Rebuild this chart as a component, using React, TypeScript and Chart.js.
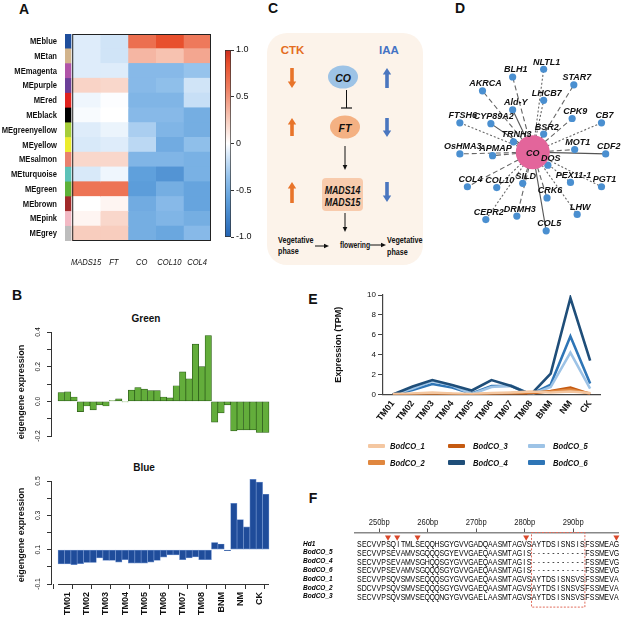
import React, { useEffect, useRef } from 'react';
import { Chart, registerables } from 'chart.js';

Chart.register(...registerables);

const SANS = "'Liberation Sans', Arial, Helvetica, sans-serif";
const SQ = 0.8; // horizontal squeeze for condensed-looking labels
Chart.defaults.font.family = SANS;

// ---------------- A: module–trait heatmap ----------------
const hmRows = ['MEblue', 'MEtan', 'MEmagenta', 'MEpurple', 'MEred', 'MEblack', 'MEgreenyellow', 'MEyellow', 'MEsalmon', 'MEturquoise', 'MEgreen', 'MEbrown', 'MEpink', 'MEgrey'];
const hmStripColors = ['#1f4e9c', '#d2b48c', '#b054a8', '#6b3f98', '#e0231f', '#000000', '#a6cd3a', '#ecec2e', '#e8806e', '#5cc2b8', '#5eb238', '#a12a2a', '#f2b9c4', '#bdbdbd'];
const hmCols = ['MADS15', 'FT', 'CO', 'COL10', 'COL4'];
const hmMADS15 = [-0.1, -0.1, -0.1, 0.22, -0.05, -0.02, -0.1, -0.12, 0.2, -0.12, 0.65, 0, 0.05, 0.25];
const hmFT = [-0.15, -0.15, -0.1, 0.2, -0.01, 0, -0.06, -0.1, 0.2, -0.05, 0.65, 0.05, 0.2, 0.25];
const hmCO = [0.68, 0.35, -0.42, -0.42, -0.45, -0.42, -0.28, -0.22, -0.45, -0.6, -0.62, -0.52, -0.5, -0.5];
const hmCOL10 = [0.85, 0.3, -0.42, -0.38, -0.45, -0.42, -0.45, -0.52, -0.45, -0.68, -0.5, -0.42, -0.45, -0.55];
const hmCOL4 = [0.62, 0.42, -0.35, -0.15, -0.18, -0.5, -0.5, -0.38, -0.48, -0.48, -0.57, -0.57, -0.5, -0.42];
const cbTicks = [-1, -0.5, 0, 0.5, 1];

const heatStops: [number, number[]][] = [
  [-1, [35, 100, 180]], [-0.6, [95, 160, 220]], [-0.35, [150, 195, 236]], [-0.1, [222, 236, 250]],
  [0, [255, 255, 255]], [0.25, [248, 205, 190]], [0.6, [238, 125, 95]], [0.85, [232, 80, 45]], [1, [205, 45, 30]],
];
function heatColor(v: number) {
  for (let i = 0; i < heatStops.length - 1; i++) {
    const [a, ca] = heatStops[i];
    const [b, cb] = heatStops[i + 1];
    if (v <= b || i === heatStops.length - 2) {
      const t = Math.max(0, Math.min(1, (v - a) / (b - a)));
      const c = ca.map((x, k) => Math.round(x + (cb[k] - x) * t));
      return `rgb(${c[0]},${c[1]},${c[2]})`;
    }
  }
  return '#fff';
}

// ---------------- B: eigengene bars ----------------
const bGroups = ['TM01', 'TM02', 'TM03', 'TM04', 'TM05', 'TM06', 'TM07', 'TM08', 'BNM', 'NM', 'CK'];
const greenME = [0.051, 0.055, 0.025, -0.059, -0.027, -0.049, -0.02, -0.027, 0.004, 0.014, -0.004, 0.065, 0.08, 0.07, 0.062, 0.062, 0.025, 0.02, 0.09, 0.17, 0.13, 0.33, 0.2, 0.38, -0.12, -0.067, -0.02, -0.17, -0.165, -0.165, -0.165, -0.18, -0.18];
const blueME = [0.017, 0.017, 0.013, 0.019, 0.025, 0.025, 0.052, 0.037, 0.037, 0.027, 0.042, 0.021, 0.021, 0.021, 0.027, 0.038, 0.056, 0.069, 0.069, 0.042, 0.052, 0.058, 0.042, 0.042, 0.142, 0.133, 0.094, 0.37, 0.275, 0.233, 0.51, 0.494, 0.423];
const greenYTicks = [-0.2, -0.1, 0, 0.1, 0.2, 0.3, 0.4];
const greenYLabels = [-0.2, 0, 0.2, 0.4];
const blueYTicks = [-0.1, 0, 0.1, 0.2, 0.3, 0.4, 0.5];
const blueYLabels = [-0.1, 0.1, 0.3, 0.5];

// ---------------- E: BodCO expression ----------------
const eCats = ['TM01', 'TM02', 'TM03', 'TM04', 'TM05', 'TM06', 'TM07', 'TM08', 'BNM', 'NM', 'CK'];
const bodCO1 = [0.05, 0.1, 0.2, 0.1, 0.05, 0.15, 0.2, 0.3, 0.2, 0.3, 0.15];
const bodCO2 = [0, 0.05, 0.1, 0.05, 0, 0.1, 0.15, 0.2, 0.3, 0.5, 0.1];
const bodCO3 = [0, 0, 0.02, 0, 0, 0.02, 0.05, 0.1, 0.35, 0.7, 0.05];
const bodCO4 = [0, 0.8, 1.45, 0.95, 0.4, 1.45, 0.85, 0, 2.1, 9.7, 3.4];
const bodCO5 = [0, 0.6, 1.35, 0.9, 0.05, 0.75, 0.9, 0, 0.75, 4.2, 0.6];
const bodCO6 = [0, 0.45, 1.05, 0.7, 0.1, 0.85, 0.85, 0, 1.0, 5.85, 1.1];
const eNames = ['BodCO_1', 'BodCO_2', 'BodCO_3', 'BodCO_4', 'BodCO_5', 'BodCO_6'];
const eColors = ['#f4c7a1', '#e0873f', '#c55a11', '#1f4e79', '#9dc3e6', '#2e75b6'];

// ---------------- F: alignment ----------------
const fNames = ['Hd1', 'BodCO_5', 'BodCO_4', 'BodCO_6', 'BodCO_1', 'BodCO_2', 'BodCO_3'];
const fSeqs = [
  'SECVVPSQITMLSEQQHSGYGVVGADQAASMTAGVSAYTDSISNSISFSSMEAG',
  'SECVVPSEVAMVSGQQQSGYEVVGAEQAASMTAGIS-----------FSSMEVG',
  'SECVVPSEVAMVSGHQQSGYGVVGAEQAASMTAGIS-----------FSSMEVG',
  'SECVVPSEVAMVSGQQQSGYGVVGAEQAASMTAGIS-----------FSSMEVG',
  'SECVVPSQVSMVSEQQQSGYGVVGAEQAASMTAGVSAYTDSISNSVSFSSMEVA',
  'SDCVVPSQVSMVSEQQQSGYGVVGAEQAASMTAGVSAYTDSISNSVSFSSMEVA',
  'SECVVPSQVSMVSEQQQNGYGVVGAELAASMTAGVSAYTDSISNSVSFSSMEVA',
];
const fFirstBp = 245.9;
const fRulerTicks = [250, 260, 270, 280, 290];
const fMarks = [251.8, 253.7, 257.9, 280.3, 298.9];
const fBox = [281.4, 292.4];

// ---------------- D: co-expression network ----------------
const dNodes = ['NLTL1', 'BLH1', 'STAR7', 'AKRCA', 'LHCB7', 'Ald-Y', 'FTSH6', 'CYP89A2', 'CPK9', 'CB7', 'BSR2', 'TRNH3', 'OsHMA3', 'APMAP', 'MOT1', 'CDF2', 'DOS', 'PEX11-1', 'PGT1', 'COL4', 'COL10', 'SILD', 'CRK6', 'CEPR2', 'DRMH3', 'LHW', 'COL5'];
const dX = [13, -24, 49, -60, 13, -24, -87, -50, 47, 82, 13, -23, -87, -48, 50, 87, 18, 45, 82, -78, -43, -12, 17, -56, -19, 53, 16];
const dY = [-96, -87, -78, -71, -60, -49, -34, -33, -39, -34, -21, -12, 2, 4, -3, 2, 15, 35, 40, 40, 41, 36, 53, 78, 74, 72, 91];
const dEdge = ['o', 'd', 'd', 'd', 'o', 's', 'o', 's', 'd', 'o', 's', 's', 'd', 'd', 'd', 's', 's', 'o', 'o', 'd', 'o', 'd', 'd', 'o', 'd', 'o', 's'];

const noUi = { legend: { display: false }, tooltip: { enabled: false } };

function squeezed(ctx: any, text: string, x: number, y: number, sx = SQ) {
  ctx.save();
  ctx.translate(x, y);
  ctx.scale(sx, 1);
  ctx.fillText(text, 0, 0);
  ctx.restore();
}

function heatmapConfig(): any {
  const colVals = [hmMADS15, hmFT, hmCO, hmCOL10, hmCOL4];
  const common = { borderWidth: 0, inflateAmount: 0.5, grouped: false, barPercentage: 1, categoryPercentage: 1 };
  const cells = colVals.map((vals, c) => ({ ...common, data: hmRows.map(() => [c, c + 1]), backgroundColor: vals.map(heatColor) }));
  const strip = { ...common, inflateAmount: 0.3, data: hmRows.map(() => [-0.26, -0.04]), backgroundColor: hmStripColors };
  return {
    type: 'bar',
    data: { labels: hmRows, datasets: [...cells, strip] },
    options: {
      indexAxis: 'y', animation: false, responsive: false,
      layout: { padding: { top: 9, right: 9, left: 0, bottom: 0 } },
      plugins: noUi,
      scales: {
        y: {
          type: 'category', grid: { display: false, drawTicks: false }, border: { display: false },
          ticks: { display: false },
          afterFit: (s: any) => { s.width = 65; },
        },
        x: {
          type: 'linear', min: -0.26, max: 5, grid: { display: false, drawTicks: false }, border: { display: false },
          ticks: { display: false },
          afterFit: (s: any) => { s.height = 34; },
        },
      },
    },
    plugins: [{
      id: 'hmDecor',
      afterDatasetsDraw(chart: any) {
        const { ctx, chartArea } = chart;
        const xs = chart.scales.x;
        const ys = chart.scales.y;
        const x0 = xs.getPixelForValue(0);
        const x1 = xs.getPixelForValue(5);
        ctx.save();
        ctx.strokeStyle = '#222';
        ctx.lineWidth = 1;
        ctx.strokeRect(x0 + 0.5, chartArea.top + 0.5, x1 - x0 - 1, chartArea.bottom - chartArea.top - 1);
        ctx.fillStyle = '#111';
        ctx.textBaseline = 'middle';
        ctx.textAlign = 'right';
        ctx.font = `bold 9.5px ${SANS}`;
        hmRows.forEach((r, i) => squeezed(ctx, r, chartArea.left - 8, ys.getPixelForValue(i)));
        ctx.textAlign = 'center';
        ctx.font = `italic 9.5px ${SANS}`;
        hmCols.forEach((c, i) => squeezed(ctx, c, xs.getPixelForValue(i + 0.5), chartArea.bottom + 21));
        ctx.restore();
      },
    }],
  };
}

function colorbarConfig(): any {
  return {
    type: 'bar',
    data: {
      labels: [''],
      datasets: [{
        data: [[-1, 1]],
        backgroundColor: (c: any) => {
          const a = c.chart.chartArea;
          if (!a) return '#fff';
          const g = c.chart.ctx.createLinearGradient(0, a.bottom, 0, a.top);
          heatStops.forEach(([v, rgb]) => g.addColorStop((v + 1) / 2, `rgb(${rgb[0]},${rgb[1]},${rgb[2]})`));
          return g;
        },
        borderColor: '#333', borderWidth: 1, borderSkipped: false, barPercentage: 1, categoryPercentage: 1,
      }],
    },
    options: {
      animation: false, responsive: false,
      layout: { padding: { left: 10, top: 10, bottom: 13, right: 0 } },
      plugins: noUi,
      scales: {
        x: { display: false },
        y: {
          position: 'right', min: -1, max: 1,
          afterBuildTicks: (s: any) => { s.ticks = cbTicks.map((v) => ({ value: v })); },
          grid: { drawOnChartArea: false, tickLength: 3, color: '#333' }, border: { display: false },
          ticks: { padding: 2, color: '#111', font: { family: SANS, size: 9 } },
          afterFit: (s: any) => { s.width = 34; },
        },
      },
    },
  };
}

function rAxisPlugin(labels: number[], titleY: number) {
  return {
    id: 'rAxis',
    afterDraw(chart: any) {
      const { ctx } = chart;
      const ys = chart.scales.y;
      ctx.save();
      ctx.fillStyle = '#111';
      ctx.textAlign = 'center';
      ctx.textBaseline = 'middle';
      ctx.font = `8px ${SANS}`;
      labels.forEach((v) => {
        ctx.save();
        ctx.translate(38, ys.getPixelForValue(v));
        ctx.rotate(-Math.PI / 2);
        ctx.scale(0.85, 1);
        ctx.fillText(v.toFixed(1), 0, 0);
        ctx.restore();
      });
      ctx.font = `bold 9px ${SANS}`;
      ctx.translate(22, titleY);
      ctx.rotate(-Math.PI / 2);
      ctx.fillText('eigengene expression', 0, 0);
      ctx.restore();
    },
  };
}

function eigenConfig(values: number[], color: string, border: string, yTicks: number[], yLabels: number[], min: number, max: number, base: number, showX: boolean, pad: any, xHeight: number, titleY: number): any {
  const x: any = showX ? {
    type: 'linear', min: -1.1, max: 33, offset: false,
    afterBuildTicks: (s: any) => {
      const t: number[] = [];
      for (let g = 0; g <= bGroups.length; g++) t.push(g * 3);
      for (let g = 0; g < bGroups.length; g++) t.push(g * 3 + 1.5);
      t.sort((a, b) => a - b);
      s.ticks = t.map((v) => ({ value: v }));
    },
    grid: { drawOnChartArea: false, tickLength: 5, tickColor: (c: any) => (c.tick && c.tick.value % 3 === 0 ? '#333' : 'rgba(0,0,0,0)') },
    border: { display: false },
    ticks: {
      autoSkip: false, minRotation: 90, maxRotation: 90, padding: 3, color: '#111',
      font: { family: SANS, size: 9, weight: 'bold' },
      callback: (v: number) => { const k = (v - 1.5) / 3; return Number.isInteger(k) ? bGroups[k] : ''; },
    },
    afterFit: (s: any) => { s.height = xHeight; },
  } : { type: 'linear', min: -1.1, max: 33, offset: false, display: false };
  const plugins: any[] = [rAxisPlugin(yLabels, titleY)];
  if (showX) {
    plugins.push({
      id: 'rXLine',
      afterDraw(chart: any) {
        const { ctx, chartArea } = chart;
        const xs = chart.scales.x;
        ctx.save();
        ctx.strokeStyle = '#333';
        ctx.lineWidth = 1;
        ctx.beginPath();
        ctx.moveTo(xs.getPixelForValue(0), chartArea.bottom + 0.5);
        ctx.lineTo(xs.getPixelForValue(33), chartArea.bottom + 0.5);
        ctx.stroke();
        ctx.restore();
      },
    });
  }
  return {
    type: 'bar',
    data: {
      datasets: [{
        data: values.map((v, i) => ({ x: i + 0.5, y: v })), base,
        backgroundColor: color, borderColor: border, borderWidth: 0.7, borderSkipped: false,
        barPercentage: 1, categoryPercentage: 1, clip: 4,
      }],
    },
    options: {
      animation: false, responsive: false,
      layout: { padding: pad },
      plugins: noUi,
      scales: {
        x,
        y: {
          min, max,
          afterBuildTicks: (s: any) => { s.ticks = yTicks.map((v) => ({ value: v })); },
          ticks: { display: false },
          grid: { drawOnChartArea: false, tickLength: 4, color: '#333' },
          border: { color: '#333' },
          afterFit: (s: any) => { s.width = 51; },
        },
      },
    },
    plugins,
  };
}

function lineConfig(): any {
  const series = [bodCO1, bodCO2, bodCO3, bodCO4, bodCO5, bodCO6];
  return {
    type: 'line',
    data: {
      labels: eCats,
      datasets: series.map((d, i) => ({ label: eNames[i], data: d, borderColor: eColors[i], backgroundColor: eColors[i], borderWidth: 2.6, pointRadius: 0, tension: 0 })),
    },
    options: {
      animation: false, responsive: false,
      layout: { padding: { top: 10, right: 35, left: 0, bottom: 0 } },
      plugins: noUi,
      scales: {
        x: {
          offset: true, grid: { display: false, drawTicks: false }, border: { color: '#444', width: 1.2 },
          ticks: { minRotation: 52, maxRotation: 52, autoSkip: false, padding: 4, color: '#111', font: { family: SANS, size: 9, weight: 'bold' } },
          afterFit: (s: any) => { s.height = 50.5; },
        },
        y: {
          min: 0, max: 10,
          ticks: { stepSize: 2, padding: 2, color: '#111', font: { family: SANS, size: 8 } },
          grid: { drawOnChartArea: false, tickLength: 5, color: '#444' },
          border: { color: '#444', width: 1.2 },
          title: { display: true, text: 'Expression (TPM)', color: '#111', font: { family: SANS, size: 9, weight: 'bold' }, padding: { top: 33, bottom: 0 } },
          afterFit: (s: any) => { s.width = 83; },
        },
      },
    },
  };
}

function alignConfig(): any {
  return {
    type: 'scatter',
    data: {
      datasets: [{
        data: fMarks.map((x) => ({ x, y: -0.75 })),
        pointStyle: 'triangle', pointRotation: 180, pointRadius: 3.5,
        pointBackgroundColor: '#d9482b', pointBorderWidth: 0, clip: false,
      }],
    },
    options: {
      animation: false, responsive: false,
      layout: { padding: { left: 65, right: 17, top: 0, bottom: 9 } },
      plugins: noUi,
      scales: {
        x: {
          type: 'linear', position: 'top', min: 245, max: 299.23,
          afterBuildTicks: (s: any) => { s.ticks = fRulerTicks.map((v) => ({ value: v })); },
          ticks: { display: false },
          grid: { drawOnChartArea: false, tickLength: 4, color: '#555' },
          border: { color: '#888', width: 1.5 },
          afterFit: (s: any) => { s.height = 27.5; },
        },
        y: { type: 'linear', display: false, reverse: true, min: -1.3, max: 7.53 },
      },
    },
    plugins: [{
      id: 'alignment',
      afterDatasetsDraw(chart: any) {
        const { ctx, chartArea } = chart;
        const xs = chart.scales.x;
        const ys = chart.scales.y;
        ctx.save();
        const bx0 = xs.getPixelForValue(fBox[0]);
        const bx1 = xs.getPixelForValue(fBox[1]);
        const by1 = ys.getPixelForValue(7.2);
        ctx.strokeStyle = '#e06a5a';
        ctx.lineWidth = 1;
        ctx.setLineDash([2, 1.5]);
        ctx.strokeRect(bx0, chartArea.top, bx1 - bx0, by1 - chartArea.top);
        ctx.setLineDash([]);
        ctx.textAlign = 'center';
        ctx.textBaseline = 'middle';
        ctx.fillStyle = '#222';
        ctx.font = `9.5px ${SANS}`;
        fRulerTicks.forEach((v) => squeezed(ctx, `${v}bp`, xs.getPixelForValue(v), chartArea.top - 10, 0.8));
        ctx.fillStyle = '#000';
        ctx.font = `9.2px ${SANS}`;
        fSeqs.forEach((seq, r) => {
          const py = ys.getPixelForValue(r) + 0.5;
          for (let i = 0; i < seq.length; i++) squeezed(ctx, seq[i], xs.getPixelForValue(fFirstBp + i), py, 0.76);
        });
        ctx.textAlign = 'left';
        ctx.font = `italic bold 6.5px ${SANS}`;
        fNames.forEach((n, r) => ctx.fillText(n, chartArea.left - 52, ys.getPixelForValue(r)));
        ctx.restore();
      },
    }],
  };
}

function networkConfig(): any {
  const dash = (k: string) => (k === 'd' ? [5, 3] : k === 'o' ? [2, 2] : []);
  const edges = dNodes.map((_, i) => ({
    data: [{ x: 0, y: 0 }, { x: dX[i], y: dY[i] }], showLine: true, order: 3,
    borderColor: dEdge[i] === 's' ? '#555' : '#666', borderWidth: 1.1, borderDash: dash(dEdge[i]), pointRadius: 0,
  }));
  return {
    type: 'scatter',
    data: {
      datasets: [
        ...edges,
        { data: dX.map((x, i) => ({ x, y: dY[i] })), order: 2, pointRadius: 3.6, pointBackgroundColor: '#4a8fd0', pointBorderWidth: 0 },
        { data: [{ x: 0, y: 0 }], order: 1, pointRadius: 17, pointBackgroundColor: '#e3659b', pointBorderWidth: 0 },
      ],
    },
    options: {
      animation: false, responsive: false,
      layout: { padding: 0 },
      plugins: noUi,
      scales: {
        x: { type: 'linear', display: false, min: -108.3, max: 101.7 },
        y: { type: 'linear', display: false, reverse: true, min: -133.3, max: 116.7 },
      },
    },
    plugins: [{
      id: 'netLabels',
      afterDatasetsDraw(chart: any) {
        const { ctx } = chart;
        const xs = chart.scales.x;
        const ys = chart.scales.y;
        ctx.save();
        ctx.fillStyle = '#111';
        ctx.textAlign = 'center';
        ctx.textBaseline = 'middle';
        ctx.font = `italic bold 9px ${SANS}`;
        dNodes.forEach((n, i) => ctx.fillText(n, xs.getPixelForValue(dX[i]) + 3, ys.getPixelForValue(dY[i]) - 7));
        ctx.fillText('CO', xs.getPixelForValue(0), ys.getPixelForValue(0) + 1);
        ctx.restore();
      },
    }],
  };
}

type Box = { left: number; top: number; width: number; height: number };

function ChartCanvas({ box, make }: { box: Box; make: () => any }) {
  const ref = useRef<HTMLCanvasElement | null>(null);
  useEffect(() => {
    if (!ref.current) return;
    const chart = new Chart(ref.current, make());
    return () => chart.destroy();
  }, []);
  return (
    <canvas
      ref={ref}
      width={box.width}
      height={box.height}
      style={{ position: 'absolute', left: box.left, top: box.top, width: box.width, height: box.height }}
    />
  );
}

function BlockArrow({ x, y1, y2, color }: { x: number; y1: number; y2: number; color: string }) {
  const dir = y2 < y1 ? -1 : 1;
  const hl = 6.5, hw = 4.2, sw = 1.8;
  const yb = y2 - dir * hl;
  const pts = `${x - sw},${y1} ${x - sw},${yb} ${x - hw},${yb} ${x},${y2} ${x + hw},${yb} ${x + sw},${yb} ${x + sw},${y1}`;
  return <polygon points={pts} fill={color} />;
}

function VArrow({ x, y1, y2 }: { x: number; y1: number; y2: number }) {
  return (
    <g>
      <line x1={x} y1={y1} x2={x} y2={y2 - 4} stroke="#111" strokeWidth={1} />
      <polygon points={`${x - 2.3},${y2 - 5} ${x},${y2} ${x + 2.3},${y2 - 5}`} fill="#111" />
    </g>
  );
}

function HArrow({ x1, x2, y }: { x1: number; x2: number; y: number }) {
  return (
    <g>
      <line x1={x1} y1={y} x2={x2 - 4} y2={y} stroke="#111" strokeWidth={1} />
      <polygon points={`${x2 - 5},${y - 2.3} ${x2},${y} ${x2 - 5},${y + 2.3}`} fill="#111" />
    </g>
  );
}

function T(p: any) {
  return <text textAnchor="middle" dominantBaseline="central" fontFamily={SANS} fill="#111" {...p} />;
}

// squeezed SVG text
function NT({ x, y, children, ...rest }: any) {
  return (
    <g transform={`translate(${x},${y}) scale(${SQ},1)`}>
      <T x={0} y={0} {...rest}>{children}</T>
    </g>
  );
}

function Overlay() {
  const orange = '#e8742a';
  const blue = '#4a76bf';
  return (
    <svg width={635} height={619} style={{ position: 'absolute', left: 0, top: 0 }}>
      {/* panel letters */}
      <T x={24} y={9} fontSize={14} fontWeight="bold">A</T>
      <T x={17} y={295} fontSize={14} fontWeight="bold">B</T>
      <T x={273} y={8} fontSize={14} fontWeight="bold">C</T>
      <T x={460} y={8} fontSize={14} fontWeight="bold">D</T>
      <T x={313} y={299} fontSize={14} fontWeight="bold">E</T>
      <T x={313} y={498} fontSize={14} fontWeight="bold">F</T>
      {/* B titles */}
      <T x={146} y={318.5} fontSize={10} fontWeight="bold">Green</T>
      <T x={144} y={467.5} fontSize={10} fontWeight="bold">Blue</T>
      {/* C: model */}
      <rect x={267} y={33} width={156} height={232} rx={20} fill="#fcf3ea" />
      <T x={292.5} y={50} fontSize={11.5} fontWeight="bold" fill="#e46c21">CTK</T>
      <T x={389} y={50} fontSize={11.5} fontWeight="bold" fill="#4472c4">IAA</T>
      <BlockArrow x={292} y1={68} y2={88} color={orange} />
      <BlockArrow x={387} y1={88} y2={68} color={blue} />
      <BlockArrow x={292} y1={136} y2={118} color={orange} />
      <BlockArrow x={387} y1={118} y2={137} color={blue} />
      <BlockArrow x={292} y1={203} y2={182} color={orange} />
      <BlockArrow x={387} y1={182} y2={202} color={blue} />
      <ellipse cx={343} cy={77} rx={15} ry={11.5} fill="#9dc3e6" />
      <T x={343} y={77.5} fontSize={10.5} fontWeight="bold" fontStyle="italic">CO</T>
      <line x1={346.5} y1={90} x2={346.5} y2={108} stroke="#111" strokeWidth={1} />
      <line x1={341} y1={108} x2={352} y2={108} stroke="#111" strokeWidth={1.2} />
      <ellipse cx={345} cy={127} rx={15} ry={11.5} fill="#f4b183" />
      <T x={345} y={127.5} fontSize={10.5} fontWeight="bold" fontStyle="italic">FT</T>
      <VArrow x={345} y1={146} y2={170} />
      <rect x={322} y={178} width={41} height={33} rx={4} fill="#f8cbad" />
      <NT x={342.5} y={190} fontSize={11} fontWeight="bold" fontStyle="italic">MADS14</NT>
      <NT x={342.5} y={202.5} fontSize={11} fontWeight="bold" fontStyle="italic">MADS15</NT>
      <VArrow x={345} y1={213} y2={232} />
      <NT x={278} y={240} fontSize={9} fontWeight="bold" textAnchor="start">Vegetative</NT>
      <NT x={278} y={251} fontSize={9} fontWeight="bold" textAnchor="start">phase</NT>
      <HArrow x1={315} x2={329} y={246} />
      <NT x={355} y={245} fontSize={8.5} fontWeight="bold">flowering</NT>
      <HArrow x1={370} x2={386} y={245} />
      <NT x={387} y={240} fontSize={9} fontWeight="bold" textAnchor="start">Vegetative</NT>
      <NT x={387} y={252} fontSize={9} fontWeight="bold" textAnchor="start">phase</NT>
    </svg>
  );
}

function ELegend() {
  return (
    <>
      {eNames.map((n, i) => {
        const col = Math.floor(i / 2);
        const row = i % 2;
        const lx = [368, 448, 528][col];
        const tx = [390, 473, 553][col];
        const y = [446, 462.5][row];
        return (
          <React.Fragment key={n}>
            <div style={{ position: 'absolute', left: lx, top: y - 2.2, width: 17, height: 4.4, background: eColors[i], borderRadius: 1 }} />
            <div style={{ position: 'absolute', left: tx, top: y - 7, height: 14, lineHeight: '14px', fontFamily: SANS, fontSize: 9.5, fontWeight: 'bold', fontStyle: 'italic', color: '#111', whiteSpace: 'nowrap', transform: `scaleX(${SQ})`, transformOrigin: 'left center' }}>{n}</div>
          </React.Fragment>
        );
      })}
    </>
  );
}

export default function App() {
  return (
    <div style={{ position: 'absolute', left: 0, top: 0, width: 635, height: 619, background: '#fff', overflow: 'hidden' }}>
      <Overlay />
      <ChartCanvas box={{ left: 0, top: 25, width: 220, height: 250 }} make={heatmapConfig} />
      <ChartCanvas box={{ left: 215, top: 40, width: 50, height: 210 }} make={colorbarConfig} />
      <ChartCanvas
        box={{ left: 0, top: 320, width: 290, height: 130 }}
        make={() => eigenConfig(greenME, '#63ad3b', '#2b5a18', greenYTicks, greenYLabels, -0.2, 0.4, 0, false, { top: 12, right: 21, bottom: 14, left: 0 }, 0, 72)}
      />
      <ChartCanvas
        box={{ left: 0, top: 470, width: 290, height: 149 }}
        make={() => eigenConfig(blueME, '#1f4c9a', '#6d8fcb', blueYTicks, blueYLabels, -0.1, 0.5, 0.1, true, { top: 11, right: 21, bottom: 0, left: 0 }, 35, 65)}
      />
      <ChartCanvas box={{ left: 425, top: 20, width: 210, height: 250 }} make={networkConfig} />
      <ChartCanvas box={{ left: 300, top: 285, width: 335, height: 160 }} make={lineConfig} />
      <ELegend />
      <ChartCanvas box={{ left: 290, top: 505, width: 345, height: 114 }} make={alignConfig} />
    </div>
  );
}
